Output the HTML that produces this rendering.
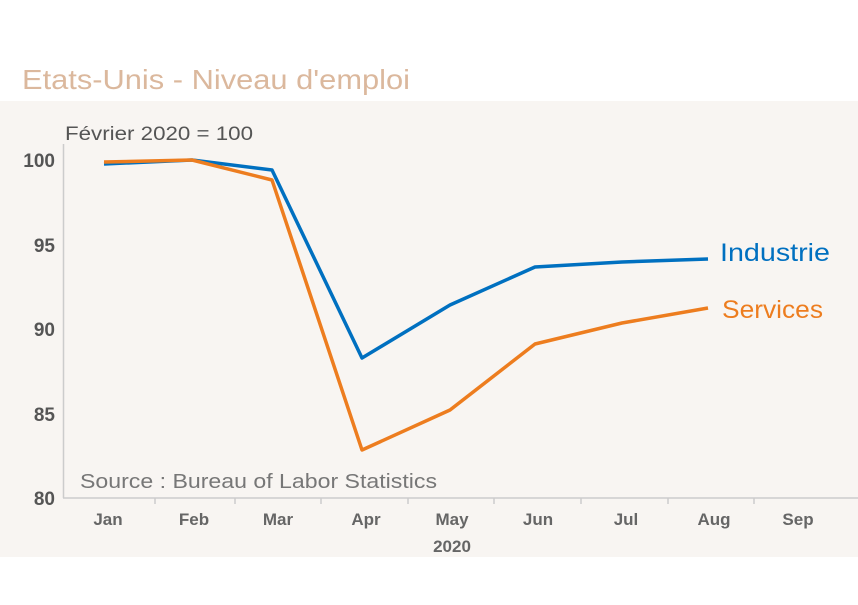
<!DOCTYPE html>
<html><head><meta charset="utf-8"><style>
body{margin:0;width:858px;height:600px;background:#fff;overflow:hidden;font-family:"Liberation Sans",sans-serif}
</style></head><body>
<svg width="858" height="600" xmlns="http://www.w3.org/2000/svg" font-family="Liberation Sans, sans-serif">
<rect x="0" y="0" width="858" height="600" fill="#fff"/>
<text x="22" y="89" font-size="28" fill="#dbb89d" textLength="388" lengthAdjust="spacingAndGlyphs">Etats-Unis - Niveau d'emploi</text>
<rect x="0" y="101" width="858" height="456" fill="#f8f5f2"/>
<text x="65" y="140" font-size="19" fill="#555" textLength="188" lengthAdjust="spacingAndGlyphs">Février 2020 = 100</text>
<line x1="63.5" y1="144" x2="63.5" y2="498" stroke="#ccc" stroke-width="1.5"/>
<line x1="63" y1="498" x2="858" y2="498" stroke="#ccc" stroke-width="1.5"/>
<g stroke="#ccc" stroke-width="1.5">
<line x1="155" y1="498" x2="155" y2="504"/><line x1="235" y1="498" x2="235" y2="504"/>
<line x1="321" y1="498" x2="321" y2="504"/><line x1="408" y1="498" x2="408" y2="504"/>
<line x1="494" y1="498" x2="494" y2="504"/><line x1="581" y1="498" x2="581" y2="504"/>
<line x1="668" y1="498" x2="668" y2="504"/><line x1="754" y1="498" x2="754" y2="504"/>
</g>
<g font-size="19" font-weight="bold" fill="#555" text-anchor="end">
<text x="55" y="167">100</text><text x="55" y="252">95</text><text x="55" y="336">90</text>
<text x="55" y="421">85</text><text x="55" y="505">80</text>
</g>
<g font-size="17" font-weight="bold" fill="#666" text-anchor="middle">
<text x="108" y="525">Jan</text><text x="194" y="525">Feb</text><text x="278" y="525">Mar</text>
<text x="366" y="525">Apr</text><text x="452" y="525">May</text><text x="538" y="525">Jun</text>
<text x="626" y="525">Jul</text><text x="714" y="525">Aug</text><text x="798" y="525">Sep</text>
<text x="452" y="552">2020</text>
</g>
<text x="80" y="488" font-size="20" fill="#777" textLength="357" lengthAdjust="spacingAndGlyphs">Source : Bureau of Labor Statistics</text>
<polyline fill="none" stroke="#0070c0" stroke-width="3.5" stroke-linejoin="round" points="104,164 192,160 272,170 362,358 450,305 535,267 622,262 708,259"/>
<polyline fill="none" stroke="#ed7d1f" stroke-width="3.5" stroke-linejoin="round" points="104,162 192,160 272,180 362,450 450,410 535,344 622,323 708,308"/>
<text x="720" y="261" font-size="25" fill="#0070c0" textLength="110" lengthAdjust="spacingAndGlyphs">Industrie</text>
<text x="722" y="318" font-size="25" fill="#ed7d1f" textLength="101" lengthAdjust="spacingAndGlyphs">Services</text>
</svg>
</body></html>
